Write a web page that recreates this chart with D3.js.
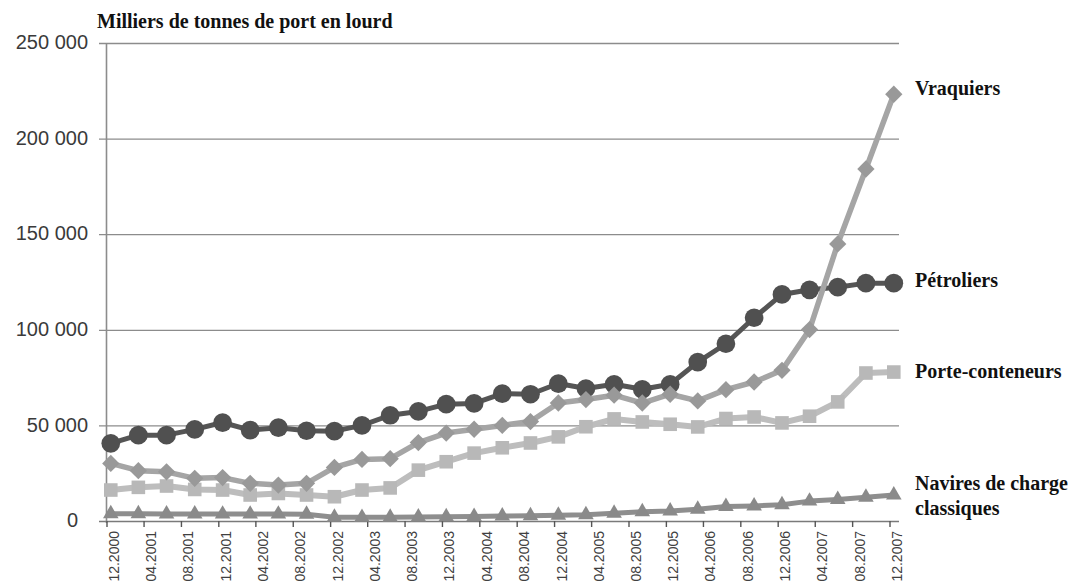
<!DOCTYPE html>
<html>
<head>
<meta charset="utf-8">
<script src="https://cdn.jsdelivr.net/npm/d3@7"></script>
<style>
  body { margin: 0; background: #fff; }
  svg { display: block; }
</style>
</head>
<body>
<svg id="chart" width="1076" height="585"></svg>
<script>
// Quarterly observations (month of each reading)
const quarters = [
  "2000-12", "2001-03", "2001-06", "2001-09", "2001-12",
  "2002-03", "2002-06", "2002-09", "2002-12",
  "2003-03", "2003-06", "2003-09", "2003-12",
  "2004-03", "2004-06", "2004-09", "2004-12",
  "2005-03", "2005-06", "2005-09", "2005-12",
  "2006-03", "2006-06", "2006-09", "2006-12",
  "2007-03", "2007-06", "2007-09", "2007-12"
];

// Fleet tonnage, thousands of tonnes deadweight
const petroliers = [
  40600, 44900, 44900, 47900, 51500, 47500, 48800, 47200, 47000,
  50000, 55300, 57300, 61100, 61500, 66600, 66300, 71900,
  69300, 71500, 68900, 71500, 83100, 92700, 106300, 118500,
  120900, 122300, 124400, 124400
];
const vraquiers = [
  30100, 26300, 25700, 22300, 22700, 19700, 18800, 19700, 28000,
  32200, 32600, 41000, 46000, 48000, 50000, 52000, 61700,
  63500, 65800, 61700, 66300, 62800, 68700, 72700, 78800,
  100100, 144900, 184100, 223200
];
const porteConteneurs = [
  16200, 17600, 18300, 16500, 16200, 13600, 14400, 13600, 12700,
  16200, 17300, 26600, 31000, 35500, 38300, 40800, 44000,
  49300, 53400, 51800, 50600, 49200, 53600, 54400, 51300,
  54800, 62300, 77400, 77900
];
const naviresClassiques = [
  3800, 3800, 3700, 3700, 3600, 3600, 3600, 3500, 2000,
  1900, 2000, 2100, 2200, 2400, 2600, 2700, 3000,
  3300, 4000, 4800, 5200, 6100, 7600, 7900, 8500,
  10400, 11300, 12400, 13600
];

// Axis ticks
const tickMonths = [
  "2000-12", "2001-04", "2001-08", "2001-12", "2002-04", "2002-08",
  "2002-12", "2003-04", "2003-08", "2003-12", "2004-04", "2004-08",
  "2004-12", "2005-04", "2005-08", "2005-12", "2006-04", "2006-08",
  "2006-12", "2007-04", "2007-08", "2007-12"
];
const tickLabels = [
  "12.2000", "04.2001", "08.2001", "12.2001", "04.2002", "08.2002",
  "12.2002", "04.2003", "08.2003", "12.2003", "04.2004", "08.2004",
  "12.2004", "04.2005", "08.2005", "12.2005", "04.2006", "08.2006",
  "12.2006", "04.2007", "08.2007", "12.2007"
];
const yTicks = [0, 50000, 100000, 150000, 200000, 250000];
const yTickLabels = ["0", "50 000", "100 000", "150 000", "200 000", "250 000"];

const seriesNames = ["Vraquiers", "Pétroliers", "Porte-conteneurs", "Navires de charge|classiques"];

const svg = d3.select("#chart");

const parseMonth = s => { const [yy, mm] = s.split("-").map(Number); return new Date(yy, mm - 1, 1); };
const midMonth = s => { const [yy, mm] = s.split("-").map(Number); return new Date(yy, mm - 1, 15); };

const x = d3.scaleTime()
  .domain([new Date(2000, 11, 1), new Date(2008, 0, 1)])
  .range([106.5, 899]);
const y = d3.scaleLinear().domain([0, 250000]).range([521, 43]);

// Horizontal gridlines with value labels
const yAxis = d3.axisLeft(y)
  .tickValues(yTicks)
  .tickSize(-(899 - 99))
  .tickPadding(11)
  .tickFormat((d, i) => yTickLabels[i]);

const gy = svg.append("g").attr("transform", "translate(99,0)").call(yAxis);
gy.select(".domain").remove();
gy.selectAll(".tick line")
  .attr("stroke", d => d === 0 ? "#7a7a7a" : "#8c8c8c")
  .attr("stroke-width", d => d === 0 ? 1.6 : 1.3);
gy.selectAll(".tick text")
  .attr("font-family", "'Liberation Sans', Arial, sans-serif")
  .attr("font-size", 20)
  .attr("fill", "#3a3a3a")
  .attr("dy", "0.28em")
  .attr("dx", d => d === 0 ? -10 : 0);

// Vertical value axis line
svg.append("line")
  .attr("x1", 106.5).attr("x2", 106.5)
  .attr("y1", y(250000)).attr("y2", y(0) + 2)
  .attr("stroke", "#8c8c8c").attr("stroke-width", 1.6);

// Time axis
const tickDates = tickMonths.map(parseMonth);
const xAxis = d3.axisBottom(x)
  .tickValues(tickDates)
  .tickSize(6)
  .tickFormat((d, i) => tickLabels[i]);

const gx = svg.append("g").attr("transform", "translate(0,521)").call(xAxis);
gx.select(".domain").remove();
gx.selectAll(".tick line").attr("stroke", "#555").attr("stroke-width", 1.4);
gx.selectAll(".tick text")
  .attr("transform", "rotate(-90)")
  .attr("text-anchor", "end")
  .attr("x", -10)
  .attr("y", 12)
  .attr("dy", 0)
  .attr("font-family", "'Liberation Sans', Arial, sans-serif")
  .attr("font-size", 14)
  .attr("fill", "#404040");

// Series lines and markers
const dates = quarters.map(midMonth);
const line = d3.line().x((d, i) => x(dates[i])).y(d => y(d));

const series = [
  { values: naviresClassiques, stroke: "#8e8e8e", width: 5, marker: d3.symbol().type(d3.symbolTriangle).size(105)(), rot: 0, fill: "#8a8a8a" },
  { values: porteConteneurs, stroke: "#bdbdbd", width: 6, marker: d3.symbol().type(d3.symbolSquare).size(185)(), rot: 0, fill: "#b8b8b8" },
  { values: petroliers, stroke: "#555555", width: 5, marker: d3.symbol().type(d3.symbolCircle).size(275)(), rot: 0, fill: "#505050" },
  { values: vraquiers, stroke: "#a5a5a5", width: 5.5, marker: d3.symbol().type(d3.symbolSquare).size(150)(), rot: 45, fill: "#999999" }
];

series.forEach(s => {
  const g = svg.append("g");
  g.append("path")
    .attr("d", line(s.values))
    .attr("fill", "none")
    .attr("stroke", s.stroke)
    .attr("stroke-width", s.width)
    .attr("stroke-linejoin", "round");
  g.selectAll("path.mk")
    .data(s.values)
    .join("path")
    .attr("class", "mk")
    .attr("d", s.marker)
    .attr("transform", (d, i) => `translate(${x(dates[i])},${y(d)}) rotate(${s.rot})`)
    .attr("fill", s.fill);
});

// Title
svg.append("text")
  .attr("x", 97).attr("y", 28)
  .attr("font-family", "'Liberation Serif', 'Times New Roman', serif")
  .attr("font-weight", "bold")
  .attr("font-size", 20)
  .attr("fill", "#111")
  .text("Milliers de tonnes de port en lourd");

// Series names at line ends
const labelPos = [
  { x: 915, y: 95 },
  { x: 915, y: 287 },
  { x: 915, y: 378 },
  { x: 915, y: 490 }
];
seriesNames.forEach((name, i) => {
  const t = svg.append("text")
    .attr("x", labelPos[i].x).attr("y", labelPos[i].y)
    .attr("font-family", "'Liberation Serif', 'Times New Roman', serif")
    .attr("font-weight", "bold")
    .attr("font-size", 20)
    .attr("fill", "#111");
  name.split("|").forEach((part, j) => {
    t.append("tspan").attr("x", labelPos[i].x).attr("dy", j === 0 ? 0 : 25).text(part);
  });
});
</script>
</body>
</html>
